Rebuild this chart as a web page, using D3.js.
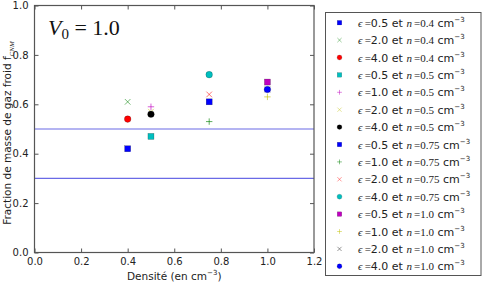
<!DOCTYPE html>
<html>
<head>
<meta charset="utf-8">
<script src="https://cdn.jsdelivr.net/npm/d3@7"></script>
<style>
  body { margin: 0; background: #fff; }
  text { font-family: "DejaVu Sans", sans-serif; }
</style>
</head>
<body>
<div id="chart"></div>
<script>
// data
var epsilons  = ["0.5","2.0","4.0","0.5","1.0","2.0","4.0","0.5","1.0","2.0","4.0","0.5","1.0","2.0","4.0"];
var densities = [0.4, 0.4, 0.4, 0.5, 0.5, 0.5, 0.5, 0.75, 0.75, 0.75, 0.75, 1.0, 1.0, 1.0, 1.0];
var densityLabels = ["0.4","0.4","0.4","0.5","0.5","0.5","0.5","0.75","0.75","0.75","0.75","1.0","1.0","1.0","1.0"];
var fractions = [0.42, 0.61, 0.54, 0.47, 0.59, 0.57, 0.56, 0.61, 0.53, 0.64, 0.72, 0.69, 0.63, 0.66, 0.66];
var markers   = ["square","x","circle","square","plus","x","circle","square","plus","x","circle","square","plus","x","circle"];
var colors    = ["#0000ff","#008000","#ff0000","#00bfbf","#bf00bf","#bfbf00","#000000"];
var hLines    = [0.5, 0.3];
var xTicks    = [0.0, 0.2, 0.4, 0.6, 0.8, 1.0, 1.2];
var yTicks    = [0.0, 0.2, 0.4, 0.6, 0.8, 1.0];

var W = 483, H = 287;
var m = {l: 34.5, r: 169, t: 5.5, b: 34.5};

var svg = d3.select("#chart").append("svg")
  .attr("width", W).attr("height", H);

var x = d3.scaleLinear().domain([0, 1.2]).range([m.l, W - m.r]);
var y = d3.scaleLinear().domain([0, 1]).range([H - m.b, m.t]);

var axisCol = "#555";

// ticks (inside, all four sides)
function styleAxis(g){
  g.select(".domain").remove();
  g.selectAll(".tick line").attr("stroke", axisCol);
  g.selectAll(".tick text").attr("fill", "#222").style("font-size", "10px");
}
svg.append("g").attr("transform", "translate(0," + y(0) + ")")
  .call(d3.axisBottom(x).tickValues(xTicks).tickFormat(d3.format(".1f")).tickSize(-4).tickPadding(5))
  .call(styleAxis);
svg.append("g").attr("transform", "translate(0," + y(1) + ")")
  .call(d3.axisTop(x).tickValues(xTicks).tickFormat("").tickSize(-4))
  .call(styleAxis);
svg.append("g").attr("transform", "translate(" + x(0) + ",0)")
  .call(d3.axisLeft(y).tickValues(yTicks).tickFormat(d3.format(".1f")).tickSize(-4).tickPadding(6))
  .call(styleAxis);
svg.append("g").attr("transform", "translate(" + x(1.2) + ",0)")
  .call(d3.axisRight(y).tickValues(yTicks).tickFormat("").tickSize(-4))
  .call(styleAxis);

// horizontal lines
svg.selectAll(".hline").data(hLines).enter().append("line")
  .attr("x1", x(0)).attr("x2", x(1.2))
  .attr("y1", function(d){ return y(d); }).attr("y2", function(d){ return y(d); })
  .attr("stroke", "#6a6ae6").attr("stroke-width", 1.2);

// marker drawing
function drawMarker(g, type, col){
  if (type == "square") {
    g.append("rect").attr("x", -3).attr("y", -3).attr("width", 6).attr("height", 6)
      .attr("fill", col).attr("stroke", "#000").attr("stroke-width", 0.4).attr("stroke-opacity", 0.5);
  } else if (type == "circle") {
    g.append("circle").attr("r", 3.3)
      .attr("fill", col).attr("stroke", "#000").attr("stroke-width", 0.4).attr("stroke-opacity", 0.5);
  } else if (type == "x") {
    g.append("path").attr("d", "M-2.8,-2.8L2.8,2.8M-2.8,2.8L2.8,-2.8")
      .attr("stroke", col).attr("stroke-width", 0.9).attr("stroke-opacity", 0.6).attr("fill", "none");
  } else {
    g.append("path").attr("d", "M-3.2,0L3.2,0M0,-3.2L0,3.2")
      .attr("stroke", col).attr("stroke-width", 0.9).attr("stroke-opacity", 0.7).attr("fill", "none");
  }
}

// points
var idx = d3.range(fractions.length);
idx.forEach(function(i){
  var g = svg.append("g").attr("transform", "translate(" + x(densities[i]) + "," + y(fractions[i]) + ")");
  drawMarker(g, markers[i], colors[i % colors.length]);
});

// frame
svg.append("rect")
  .attr("x", x(0)).attr("y", y(1))
  .attr("width", x(1.2) - x(0)).attr("height", y(0) - y(1))
  .attr("fill", "none").attr("stroke", axisCol).attr("stroke-width", 1.2);

// V0 annotation
var v0 = svg.append("text").attr("x", 48).attr("y", 35)
  .style("font-family", "'Liberation Serif', serif").style("font-size", "22px").attr("fill", "#111");
v0.append("tspan").style("font-style", "italic").text("V");
v0.append("tspan").attr("dy", 4).style("font-size", "15px").text("0");
v0.append("tspan").attr("dy", -4).text(" = 1.0");

// axis labels
var xl = svg.append("text").attr("x", x(0.6)).attr("y", 280)
  .attr("text-anchor", "middle").style("font-size", "10.5px").attr("fill", "#222");
xl.append("tspan").text("Densité (en cm");
xl.append("tspan").attr("dy", -5).style("font-size", "7px").text("−3");
xl.append("tspan").attr("dy", 5).text(")");

var yl = svg.append("text")
  .attr("transform", "translate(11," + 133 + ") rotate(-90)")
  .attr("text-anchor", "middle").style("font-size", "10.5px").attr("fill", "#222");
yl.append("tspan").text("Fraction de masse de gaz froid f");
yl.append("tspan").attr("dy", 3).style("font-size", "7px")
  .style("font-family", "'Liberation Serif', serif").style("font-style", "italic").text("CNM");

// legend
var legX = 325.5, legY = 12.5, legW = 155.5, legH = 263;
svg.append("rect").attr("x", legX).attr("y", legY).attr("width", legW).attr("height", legH)
  .attr("fill", "#fff").attr("stroke", "#555").attr("stroke-width", 1);

var rowH = 17.4, row0 = 22.7;
idx.forEach(function(i){
  var cy = row0 + i * rowH;
  var g = svg.append("g").attr("transform", "translate(339.5," + cy + ") scale(0.75)");
  drawMarker(g, markers[i], colors[i % colors.length]);
  var t = svg.append("text").attr("x", 358).attr("y", cy + 4)
    .style("font-size", "11px").attr("fill", "#222");
  t.append("tspan").style("font-family", "'Liberation Serif', serif").style("font-style", "italic").text("ϵ");
  t.append("tspan").style("font-family", "'Liberation Serif', serif").text("\u2009=");
  t.append("tspan").text(epsilons[i] + " et ");
  t.append("tspan").style("font-family", "'Liberation Serif', serif").style("font-style", "italic").text("n");
  t.append("tspan").style("font-family", "'Liberation Serif', serif").text("\u2009=" + densityLabels[i]);
  t.append("tspan").text(" cm");
  t.append("tspan").attr("dy", -5).style("font-size", "7px").text("−3");
});
</script>
</body>
</html>
